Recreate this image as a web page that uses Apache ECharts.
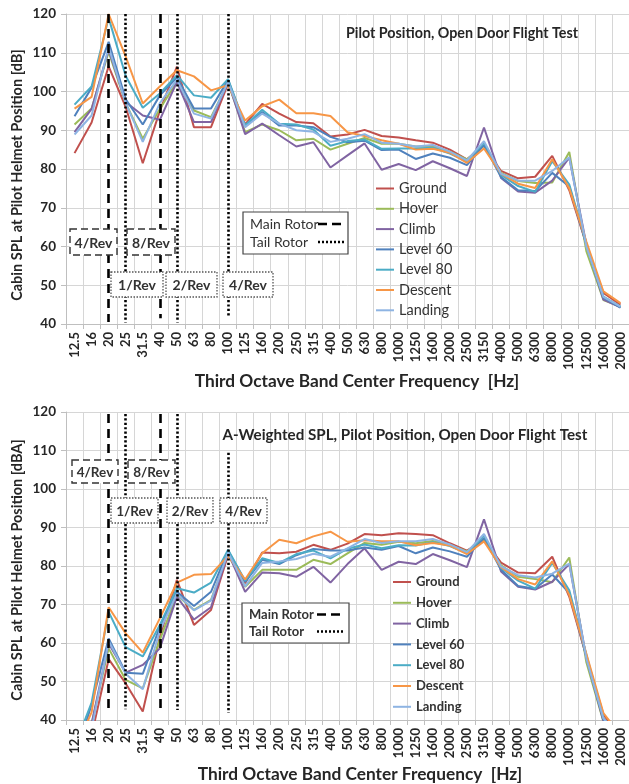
<!DOCTYPE html>
<html>
<head>
<meta charset="utf-8">
<script src="https://cdn.jsdelivr.net/npm/echarts@6/dist/echarts.min.js"></script>
<style>
  html, body { margin: 0; padding: 0; background: #fff; }
  #chart { width: 629px; height: 784px; }
</style>
</head>
<body>
<div id="chart"></div>
<script>
//////////////////////////////////////////////////////////////////
// [ Data ]

const bands = ['12.5', '16', '20', '25', '31.5', '40', '50', '63', '80', '100', '125', '160', '200', '250', '315', '400', '500', '630', '800', '1000', '1250', '1600', '2000', '2500', '3150', '4000', '5000', '6300', '8000', '10000', '12500', '16000', '20000'];

const conditionNames = ['Ground', 'Hover', 'Climb', 'Level 60', 'Level 80', 'Descent', 'Landing'];
const conditionColors = ['#C0504D', '#9BBB59', '#8064A2', '#4F81BD', '#4BACC6', '#F79646', '#8EB4E3'];

// Unweighted SPL [dB]
const groundDb = [84.1, 92.0, 106.5, 96.0, 81.5, 95.0, 106.4, 90.8, 90.8, 102.0, 91.5, 96.8, 94.3, 92.1, 91.8, 88.4, 88.9, 90.1, 88.5, 88.1, 87.4, 86.8, 85.0, 82.5, 86.0, 79.5, 77.6, 78.0, 83.4, 74.5, 60.5, 48.0, 45.0];
const hoverDb = [91.5, 95.6, 110.2, 97.0, 87.8, 95.5, 102.5, 95.1, 93.4, 102.3, 89.5, 91.5, 90.0, 87.4, 87.8, 85.0, 86.5, 88.0, 86.5, 86.5, 85.8, 85.8, 84.5, 82.5, 86.0, 79.0, 76.9, 76.4, 76.5, 84.4, 58.8, 46.2, 44.5];
const climbDb = [89.5, 95.5, 110.8, 97.3, 93.8, 92.7, 102.5, 92.1, 92.1, 102.5, 89.0, 91.7, 88.7, 85.8, 86.9, 80.4, 83.5, 86.6, 79.8, 81.3, 79.7, 82.0, 80.2, 78.2, 90.7, 77.7, 74.2, 73.9, 77.0, 82.9, 60.5, 46.3, 44.3];
const level60Db = [93.6, 101.0, 112.8, 98.0, 91.5, 99.0, 103.6, 95.6, 95.6, 103.0, 91.0, 94.7, 91.2, 91.2, 90.8, 88.3, 86.9, 87.3, 84.9, 85.0, 82.6, 84.0, 82.9, 81.0, 86.2, 77.9, 74.5, 74.3, 79.0, 75.5, 60.5, 46.8, 44.2];
const level80Db = [96.6, 101.3, 119.0, 104.0, 95.8, 99.5, 104.2, 99.0, 98.4, 103.2, 91.3, 95.3, 91.7, 91.5, 90.2, 86.0, 87.2, 87.6, 85.2, 85.3, 85.3, 85.5, 84.0, 82.0, 86.8, 78.5, 75.6, 74.1, 82.0, 76.0, 60.8, 47.1, 44.5];
const descentDb = [95.6, 98.6, 120.0, 109.0, 96.9, 101.3, 105.5, 103.9, 100.3, 101.6, 92.5, 96.2, 97.9, 94.4, 94.4, 93.7, 89.5, 88.5, 87.4, 86.5, 85.0, 85.2, 84.2, 81.6, 85.3, 78.8, 76.2, 75.1, 82.5, 75.0, 61.3, 48.4, 45.4];
const landingDb = [88.9, 93.8, 111.5, 97.0, 87.0, 97.0, 103.0, 94.3, 93.0, 102.5, 90.8, 94.3, 91.7, 90.0, 89.6, 87.0, 87.8, 89.0, 86.8, 86.5, 85.8, 86.2, 84.5, 82.2, 87.2, 78.8, 77.0, 77.0, 79.5, 83.0, 60.0, 47.0, 44.5];

// A-weighted SPL [dBA]
const groundDba = [21.0, 36.0, 55.8, 49.5, 42.2, 61.6, 76.4, 64.7, 68.6, 82.9, 75.5, 83.5, 83.3, 83.7, 85.5, 84.2, 85.8, 88.3, 88.0, 88.5, 88.3, 88.0, 85.9, 84.0, 86.7, 80.9, 78.3, 78.1, 82.4, 72.0, 56.5, 41.4, 35.7];
const hoverDba = [28.0, 39.0, 58.6, 50.4, 48.2, 60.8, 72.5, 68.6, 71.2, 83.2, 74.6, 79.0, 79.0, 79.0, 81.6, 80.5, 83.3, 86.0, 85.5, 86.3, 85.9, 86.5, 85.5, 83.8, 87.0, 80.2, 77.2, 76.6, 75.8, 82.2, 55.0, 39.6, 35.2];
const climbDba = [26.0, 39.0, 59.9, 52.3, 54.3, 58.6, 72.0, 66.1, 69.3, 83.4, 73.3, 78.3, 78.1, 77.2, 79.8, 75.7, 80.5, 84.6, 79.0, 81.1, 80.5, 83.1, 81.5, 79.7, 92.1, 78.6, 74.6, 73.9, 75.9, 80.5, 56.2, 39.7, 35.0];
const level60Dba = [30.0, 44.0, 61.2, 52.3, 52.0, 64.2, 73.3, 69.6, 73.3, 84.0, 75.9, 81.6, 80.5, 82.8, 84.4, 84.0, 84.0, 84.8, 84.2, 85.2, 83.3, 84.8, 83.8, 82.4, 87.3, 79.0, 74.8, 74.1, 77.8, 73.0, 56.4, 40.2, 34.9];
const level80Dba = [33.0, 44.5, 68.1, 58.9, 56.5, 64.7, 74.2, 73.1, 75.7, 84.2, 76.2, 82.0, 80.8, 83.1, 84.0, 82.0, 84.5, 85.6, 84.6, 85.4, 85.3, 86.2, 85.2, 83.3, 88.0, 79.5, 76.2, 74.1, 80.8, 73.7, 57.0, 40.5, 35.2];
const descentDba = [32.0, 42.0, 69.3, 62.5, 57.5, 66.4, 75.7, 77.7, 77.9, 82.6, 76.5, 83.3, 86.8, 85.9, 87.7, 88.9, 86.3, 86.7, 86.4, 86.4, 85.4, 86.0, 85.3, 83.1, 86.4, 79.7, 76.6, 75.2, 81.2, 72.5, 57.2, 41.8, 36.1];
const landingDba = [25.5, 37.5, 60.5, 52.0, 48.0, 63.2, 72.8, 68.5, 71.0, 83.5, 74.7, 80.8, 81.2, 81.8, 83.2, 82.4, 84.6, 87.0, 86.0, 86.4, 86.4, 87.0, 85.6, 83.6, 88.3, 79.9, 77.6, 77.0, 78.0, 80.6, 56.0, 40.4, 35.2];

// rotor harmonics (band where they fall) and vertical extent of the marker lines
const mainRotorBands = ['20', '40'];
const tailRotorBands = ['25', '50', '100'];
const topMainSpan = [[120, 40.5], [120, 41.5]];
const topTailSpan = [[120, 40.4], [120, 40.4], [120, 41.7]];
const botMainSpan = [[119.5, 42.3], [119.5, 42.3]];
const botTailSpan = [[119.5, 42.8], [119.5, 42.6], [109.4, 41.8]];

const yMin = 40, yMax = 120, yStep = 10;

//////////////////////////////////////////////////////////////////
// [ Helpers ]

const FONT = 'Lato, "Liberation Sans", sans-serif';
const TXT = '#262626';
const GRID_COLOR = '#d6d6d6';

function rotorLines(bandsList, spans, dash) {
    return bandsList.map(function (b, i) {
        return [
            { coord: [b, spans[i][0]], lineStyle: { color: '#000', width: 2.6, type: dash } },
            { coord: [b, spans[i][1]] }
        ];
    });
}

function buildSeries(dataSets, axisIdx, marks) {
    return dataSets.map(function (d, i) {
        const s = {
            name: conditionNames[i],
            type: 'line',
            xAxisIndex: axisIdx,
            yAxisIndex: axisIdx,
            data: d,
            symbol: 'none',
            smooth: false,
            lineStyle: { width: 2, color: conditionColors[i] },
            itemStyle: { color: conditionColors[i] },
            z: 3
        };
        if (i === 0) {
            s.markLine = {
                silent: true,
                symbol: ['none', 'none'],
                label: { show: false },
                animation: false,
                data: marks
            };
        }
        return s;
    });
}

function xAxisCfg(idx) {
    return {
        type: 'category',
        gridIndex: idx,
        data: bands,
        boundaryGap: true,
        axisLine: { lineStyle: { color: '#bfbfbf', width: 1 } },
        axisTick: { show: true, length: 5, lineStyle: { color: '#bfbfbf' } },
        splitLine: { show: true, lineStyle: { color: GRID_COLOR, width: 1 } },
        axisLabel: {
            interval: 0, rotate: 90, margin: 8,
            fontFamily: FONT, fontSize: 13, fontWeight: 'bold', color: TXT
        }
    };
}

function yAxisCfg(idx) {
    return {
        type: 'value',
        gridIndex: idx,
        min: yMin, max: yMax, interval: yStep,
        axisLine: { show: true, lineStyle: { color: '#bfbfbf' } },
        axisTick: { show: true, length: 5, lineStyle: { color: '#bfbfbf' } },
        splitLine: { show: true, lineStyle: { color: GRID_COLOR, width: 1 } },
        axisLabel: {
            margin: 10, fontFamily: FONT, fontSize: 13.5, fontWeight: 'bold', color: TXT
        }
    };
}

// white annotation box with dashed (main rotor) or dotted (tail rotor) border
function revBox(x, y, w, h, text, main, size) {
    return {
        type: 'group', x: x, y: y, z: 100,
        children: [
            { type: 'rect', shape: { x: 0, y: 0, width: w, height: h },
              style: { fill: '#fff', stroke: main ? '#333' : '#555', lineWidth: main ? 1.4 : 1.3,
                       lineDash: main ? [7, 4] : [1.5, 1.5] }, z: 100 },
            { type: 'text', x: w / 2, y: h / 2 + 1, z: 101,
              style: { text: text, fill: '#333', align: 'center', verticalAlign: 'middle',
                       font: 'bold ' + size + 'px ' + FONT } }
        ]
    };
}

function rotorLegend(x, y, w, h, weight, size, rowGap) {
    return {
        type: 'group', x: x, y: y, z: 100,
        children: [
            { type: 'rect', shape: { x: 0, y: 0, width: w, height: h },
              style: { fill: '#fff', stroke: '#444', lineWidth: 1.2 }, z: 100 },
            { type: 'text', x: 7, y: h / 2 - rowGap / 2, z: 101,
              style: { text: 'Main Rotor', fill: '#333', verticalAlign: 'middle', font: weight + ' ' + size + 'px ' + FONT } },
            { type: 'text', x: 7, y: h / 2 + rowGap / 2, z: 101,
              style: { text: 'Tail Rotor', fill: '#333', verticalAlign: 'middle', font: weight + ' ' + size + 'px ' + FONT } },
            { type: 'line', z: 101, shape: { x1: 75, y1: h / 2 - rowGap / 2, x2: 100, y2: h / 2 - rowGap / 2 },
              style: { stroke: '#000', lineWidth: 2.6, lineDash: [9, 5] } },
            { type: 'line', z: 101, shape: { x1: 75, y1: h / 2 + rowGap / 2, x2: 101, y2: h / 2 + rowGap / 2 },
              style: { stroke: '#000', lineWidth: 2.4, lineDash: [2, 2] } }
        ]
    };
}

function axisTitle(text, x, y, rot, size) {
    return {
        type: 'text', x: x, y: y, rotation: rot, z: 100,
        style: { text: text, fill: TXT, align: 'center', verticalAlign: 'middle',
                 font: 'bold ' + size + 'px ' + FONT }
    };
}

//////////////////////////////////////////////////////////////////
// [ Chart ]

const chart = echarts.init(document.getElementById('chart'), null, { renderer: 'canvas' });

const topSets = [groundDb, hoverDb, climbDb, level60Db, level80Db, descentDb, landingDb];
const botSets = [groundDba, hoverDba, climbDba, level60Dba, level80Dba, descentDba, landingDba];

const topMarks = rotorLines(mainRotorBands, topMainSpan, [9, 6]).concat(rotorLines(tailRotorBands, topTailSpan, [2.2, 2.2]));
const botMarks = rotorLines(mainRotorBands, botMainSpan, [9, 6]).concat(rotorLines(tailRotorBands, botTailSpan, [2.2, 2.2]));

const option = {
    animation: false,
    backgroundColor: '#fff',
    grid: [
        { left: 66, top: 14, width: 564, height: 310 },
        { left: 66, top: 412, width: 564, height: 308 }
    ],
    xAxis: [xAxisCfg(0), xAxisCfg(1)],
    yAxis: [yAxisCfg(0), yAxisCfg(1)],
    legend: [
        {
            data: conditionNames, orient: 'vertical', left: 370, top: 176,
            itemWidth: 18, itemHeight: 14, itemGap: 5.3,
            selectedMode: false,
            itemStyle: { opacity: 0 },
            textStyle: { fontFamily: FONT, fontSize: 14.5, color: '#333', lineHeight: 14 }
        },
        {
            data: conditionNames, orient: 'vertical', left: 387, top: 570,
            itemWidth: 18, itemHeight: 14, itemGap: 6.8,
            selectedMode: false,
            itemStyle: { opacity: 0 },
            textStyle: { fontFamily: FONT, fontSize: 13, fontWeight: 'bold', color: '#333', lineHeight: 14 }
        }
    ],
    series: buildSeries(topSets, 0, topMarks).concat(buildSeries(botSets, 1, botMarks)),
    graphic: [
        // panel titles
        { type: 'text', x: 462, y: 33, z: 100,
          style: { text: 'Pilot Position, Open Door Flight Test', fill: TXT, align: 'center', verticalAlign: 'middle', font: 'bold 14.3px ' + FONT } },
        { type: 'text', x: 405, y: 435, z: 100,
          style: { text: 'A-Weighted SPL, Pilot Position, Open Door Flight Test', fill: TXT, align: 'center', verticalAlign: 'middle', font: 'bold 15.2px ' + FONT } },

        // axis titles
        axisTitle('Cabin SPL at Pilot Helmet Position [dB]', 17, 175, Math.PI / 2, 14.5),
        axisTitle('Cabin SPL at Pilot Helmet Position [dBA]', 17, 570, Math.PI / 2, 14.5),
        axisTitle('Third Octave Band Center Frequency  [Hz]', 357, 381, 0, 17.3),
        axisTitle('Third Octave Band Center Frequency  [Hz]', 360, 774, 0, 17.3),

        // rotor legends
        rotorLegend(243, 212, 105, 42, 'normal', 14, 18),
        rotorLegend(242, 603, 107, 40, 'bold', 13, 17),

        // harmonic labels, top panel
        revBox(70, 229, 47, 26, '4/Rev', true, 14),
        revBox(127, 229, 48, 26, '8/Rev', true, 14),
        revBox(111, 272, 52, 25, '1/Rev', false, 14),
        revBox(166, 272, 51, 25, '2/Rev', false, 14),
        revBox(223, 272, 50, 25, '4/Rev', false, 14),

        // harmonic labels, bottom panel
        revBox(72, 460, 46, 23, '4/Rev', true, 13.5),
        revBox(128, 460, 47, 23, '8/Rev', true, 13.5),
        revBox(111, 498, 47, 25, '1/Rev', false, 13.5),
        revBox(167, 498, 46, 25, '2/Rev', false, 13.5),
        revBox(220, 498, 47, 25, '4/Rev', false, 13.5)
    ]
};

chart.setOption(option);
</script>
</body>
</html>
